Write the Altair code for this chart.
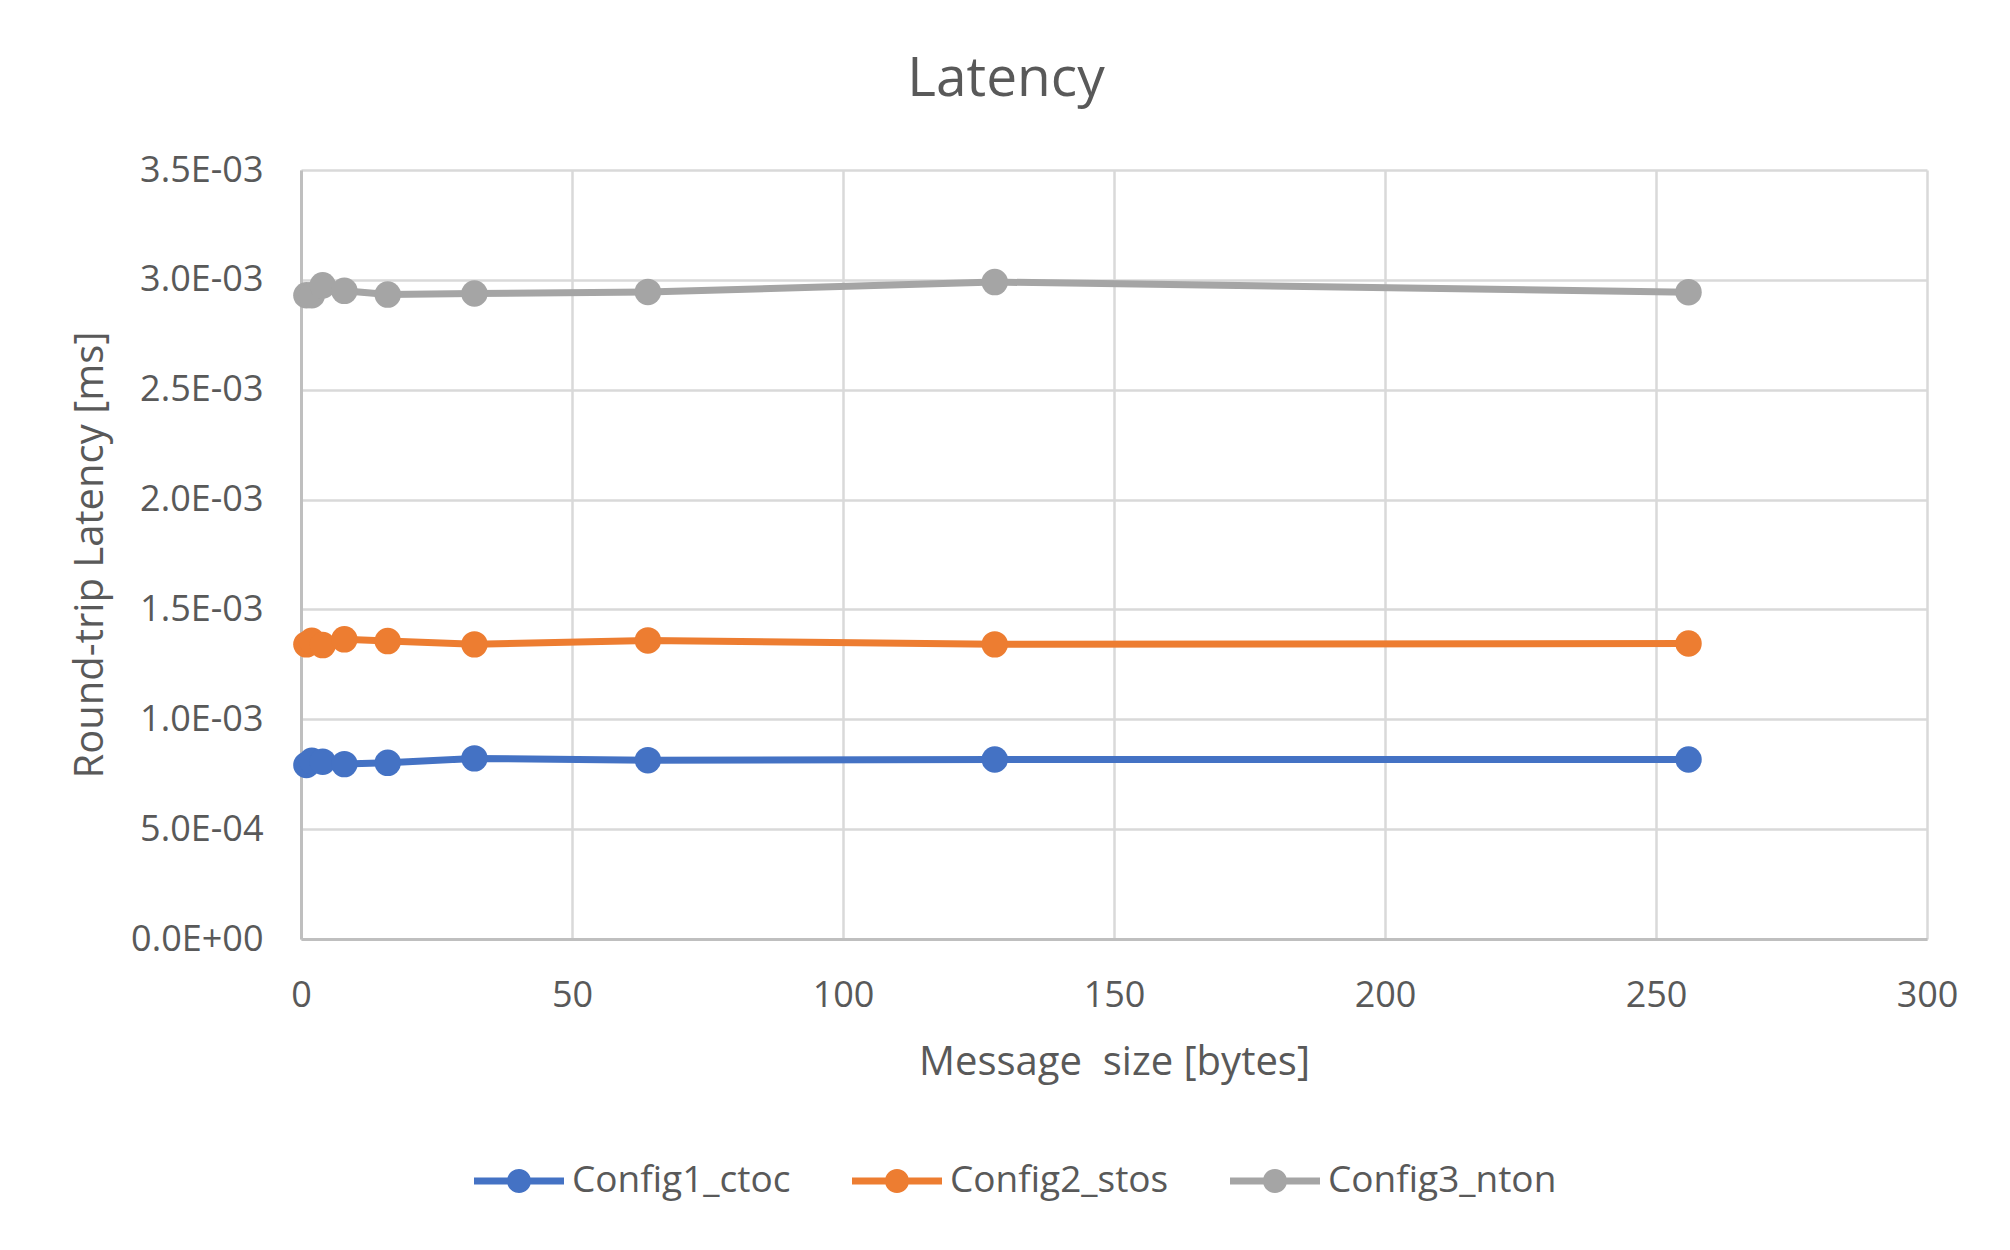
import altair as alt
import pandas as pd

# ---- data ----
sizes = [1, 2, 4, 8, 16, 32, 64, 128, 256]
config1_ctoc = [0.792e-3, 0.811e-3, 0.807e-3, 0.796e-3, 0.802e-3, 0.822e-3, 0.814e-3, 0.817e-3, 0.817e-3]
config2_stos = [1.341e-3, 1.357e-3, 1.338e-3, 1.364e-3, 1.356e-3, 1.341e-3, 1.359e-3, 1.341e-3, 1.345e-3]
config3_nton = [2.930e-3, 2.930e-3, 2.975e-3, 2.950e-3, 2.933e-3, 2.938e-3, 2.945e-3, 2.990e-3, 2.944e-3]
series_names = ["Config1_ctoc", "Config2_stos", "Config3_nton"]
series_colors = ["#4472C4", "#ED7D31", "#A5A5A5"]
x_ticks = [0, 50, 100, 150, 200, 250, 300]
y_ticks = [0, 0.0005, 0.001, 0.0015, 0.002, 0.0025, 0.003, 0.0035]

rows = []
for name, vals in zip(series_names, [config1_ctoc, config2_stos, config3_nton]):
    for s, v in zip(sizes, vals):
        rows.append({"size": s, "latency": v, "series": name})
df = pd.DataFrame(rows)

FONT = "Open Sans"
TEXT = "#595959"

sci_expr = (
    "datum.value == 0 ? '0.0E+00' : "
    "format(datum.value / pow(10, floor(log(datum.value)/LN10 + 1e-9)), '.1f') + 'E' + "
    "(floor(log(datum.value)/LN10 + 1e-9) < 0 ? '-' : '+') + "
    "(abs(floor(log(datum.value)/LN10 + 1e-9)) < 10 ? '0' : '') + "
    "abs(floor(log(datum.value)/LN10 + 1e-9))"
)

legend_path = ("M-1,-0.078L1,-0.078L1,0.078L-1,0.078Z "
               "M-0.267,0A0.267,0.267 0 1,1 0.267,0A0.267,0.267 0 1,1 -0.267,0Z")

x_enc = alt.X("size:Q",
              scale=alt.Scale(domain=[0, 300], nice=False),
              axis=alt.Axis(values=x_ticks, title="Message\u00a0 size [bytes]", format="d"))
y_enc = alt.Y("latency:Q",
              scale=alt.Scale(domain=[0, 0.0035], nice=False),
              axis=alt.Axis(values=y_ticks, title="Round-trip Latency [ms]", labelExpr=sci_expr))
color_enc = alt.Color("series:N",
                      scale=alt.Scale(domain=series_names, range=series_colors),
                      legend=alt.Legend(title=None, orient="none", direction="horizontal",
                                        legendX=173, legendY=966,
                                        symbolType=legend_path, symbolSize=8100,
                                        symbolStrokeWidth=0, labelOffset=8,
                                        columnPadding=61, labelFontSize=37,
                                        labelFont=FONT, labelColor=TEXT,
                                        labelLimit=400))

base = alt.Chart(df)
lines = base.mark_line(strokeWidth=7).encode(x=x_enc, y=y_enc, color=color_enc, detail="series:N")
points = base.mark_point(filled=True, size=700, opacity=1).encode(x=x_enc, y=y_enc, color=color_enc)

chart = alt.layer(lines, points).properties(
    width=1626, height=769,
    title=alt.TitleParams("Latency", fontSize=55, font=FONT, color=TEXT, fontWeight="normal",
                          anchor="middle", dx=-108, offset=44),
    autosize=alt.AutoSizeParams(type="none"),
    padding={"left": 293, "top": 162, "right": 75, "bottom": 303},
).configure_view(stroke=None).configure_axis(
    labelFont=FONT, titleFont=FONT, labelColor=TEXT, titleColor=TEXT,
    labelFontSize=36, titleFontSize=40, titleFontWeight="normal",
    gridColor="#D9D9D9", gridWidth=2.5, domainColor="#BFBFBF", domainWidth=3,
    ticks=False, labelPadding=20, labelFlush=False,
).configure_axisY(
    labelPadding=38, titlePadding=20,
).configure_axisX(
    labelPadding=39, titlePadding=29,
)

chart.save("out.html", embed_options={"renderer": "svg", "actions": False})
